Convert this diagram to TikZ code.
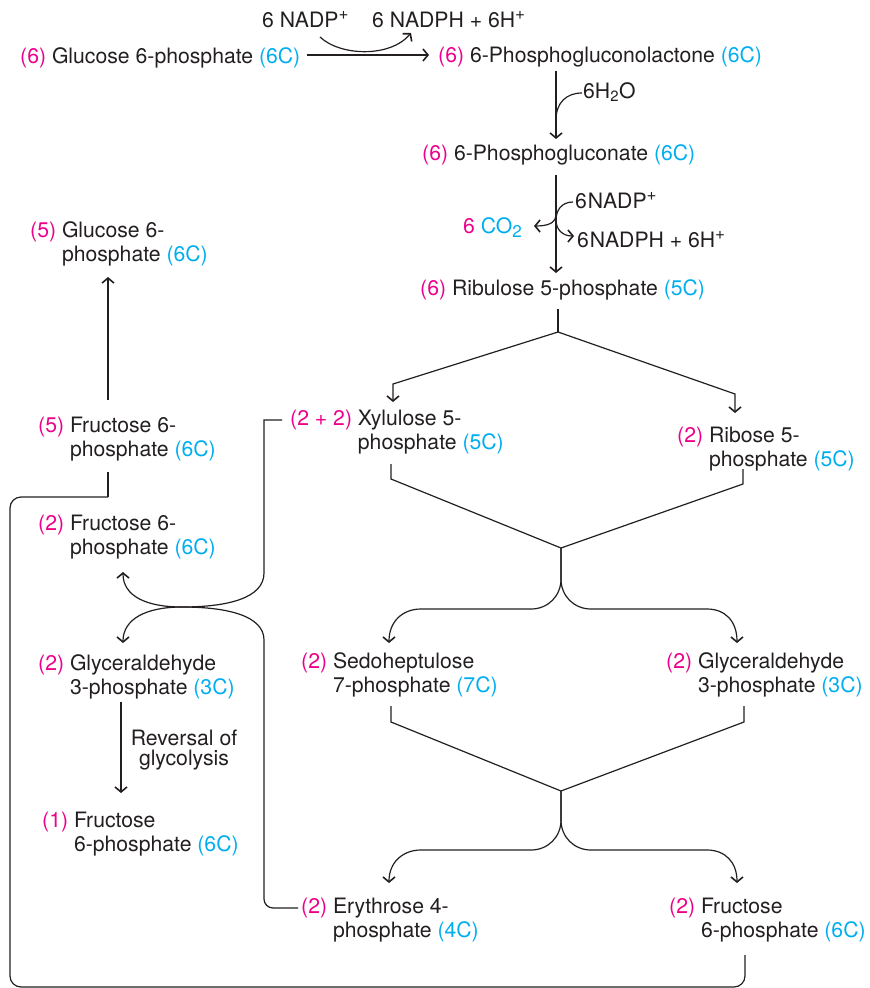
\documentclass[tikz,border=0pt]{standalone}
\usepackage{fontspec}
\setmainfont{TeX Gyre Heros}
\usetikzlibrary{arrows.meta}
\definecolor{txt}{HTML}{231F20}
\definecolor{pinkc}{HTML}{EC008C}
\definecolor{cyanc}{HTML}{00AEEF}
\newcommand{\pinkt}[1]{\textcolor{pinkc}{#1}}
\newcommand{\cyant}[1]{\textcolor{cyanc}{#1}}
\newcommand{\plussup}{\raisebox{8pt}{\fontsize{17}{17}\selectfont +}}
\newcommand{\twolines}[3]{\begin{tabular}[t]{@{}l@{\ }l@{}}#1 & #2\\ & #3\end{tabular}}
\begin{document}
\begin{tikzpicture}[x=1pt,y=-1pt,
  lbl/.style={inner sep=0pt, anchor=base west, text=txt, font=\fontsize{21.2}{24.5}\selectfont},
  ln/.style={draw=txt, line width=1.2pt},
  arr/.style={ln, -{Straight Barb[length=5pt,width=12pt,line width=1.6pt]}}]
\useasboundingbox (0,0) rectangle (870,988);

% ---- nodes ----
\node[lbl] (g6p)  at (20,63)   {\pinkt{(6)} Glucose 6-phosphate \cyant{(6C)}};
\node[lbl] (pgl)  at (438,62)  {\pinkt{(6)} 6-Phosphogluconolactone \cyant{(6C)}};
\node[lbl] (pg)   at (422,160) {\pinkt{(6)} 6-Phosphogluconate \cyant{(6C)}};
\node[lbl] (ru5p) at (420,295) {\pinkt{(6)} Ribulose 5-phosphate \cyant{(5C)}};
\node[lbl] (nadpa)  at (262,27) {6 NADP\plussup};
\node[lbl] (nadpha) at (372,27) {6 NADPH + 6H\plussup};
\node[lbl] (water)  at (583,98) {6H\textsubscript{2}O};
\node[lbl] (nadpb)  at (575,208) {6\kern1pt NADP\plussup};
\node[lbl] (co2)    at (463,233) {\pinkt{6} \cyant{CO\raisebox{-4pt}{\fontsize{17}{17}\selectfont 2}}};
\node[lbl] (nadphb) at (577,247) {6\kern1pt NADPH + 6H\plussup};

\node[lbl] (xu5p) at (290,425) {\twolines{\pinkt{(2 + 2)}}{Xylulose 5-}{phosphate \cyant{(5C)}}};
\node[lbl] (r5p)  at (677,442) {\twolines{\pinkt{(2)}}{Ribose 5-}{phosphate \cyant{(5C)}}};
\node[lbl] (s7p)  at (301,668) {\twolines{\pinkt{(2)}}{Sedoheptulose}{7-phosphate \cyant{(7C)}}};
\node[lbl] (gapr) at (666,668) {\twolines{\pinkt{(2)}}{Glyceraldehyde}{3-phosphate \cyant{(3C)}}};
\node[lbl] (e4p)  at (301,913) {\twolines{\pinkt{(2)}}{Erythrose 4-}{phosphate \cyant{(4C)}}};
\node[lbl] (f6pr) at (669,913) {\twolines{\pinkt{(2)}}{Fructose}{6-phosphate \cyant{(6C)}}};

\node[lbl] (g6pl) at (30,237)  {\twolines{\pinkt{(5)}}{Glucose 6-}{phosphate \cyant{(6C)}}};
\node[lbl] (f6pa) at (38,432)  {\twolines{\pinkt{(5)}}{Fructose 6-}{phosphate \cyant{(6C)}}};
\node[lbl] (f6pb) at (38,530)  {\twolines{\pinkt{(2)}}{Fructose 6-}{phosphate \cyant{(6C)}}};
\node[lbl] (gapl) at (38,670)  {\twolines{\pinkt{(2)}}{Glyceraldehyde}{3-phosphate \cyant{(3C)}}};
\node[lbl] (f6pc) at (42,827)  {\twolines{\pinkt{(1)}}{Fructose}{6-phosphate \cyant{(6C)}}};
\node[lbl, anchor=north, align=center, font=\fontsize{21.2}{20}\selectfont] (rev) at (184,730) {Reversal of\\glycolysis};

% ---- connector end points ----
\coordinate (g6pE) at (307,55);   \coordinate (pglW) at (429,55);
\coordinate (nadpaS) at (320,37); \coordinate (nadphaS) at (411,33);
\coordinate (pglS) at (556,71);   \coordinate (pgN) at (556,139);
\coordinate (waterW) at (582,93); \coordinate (waterJ) at (556,120);
\coordinate (pgS) at (556,175);   \coordinate (ruN) at (556,273);
\coordinate (nadpbW) at (573,202); \coordinate (nadphbW) at (574,236);
\coordinate (co2J) at (556,214);  \coordinate (co2E) at (534,226);
\coordinate (ruS) at (558,309);   \coordinate (j1) at (558,332);
\coordinate (xuN) at (393,402);   \coordinate (rN) at (735,413);
\coordinate (xuS) at (391,464);   \coordinate (rS) at (743,469);
\coordinate (j2) at (561,548);
\coordinate (s7N) at (389,643);   \coordinate (garN) at (737,643);
\coordinate (s7S) at (391,706);   \coordinate (garS) at (744,706);
\coordinate (j3) at (561,791);
\coordinate (e4N) at (389,883);   \coordinate (frN) at (737,883);
\coordinate (frS) at (745,955);
\coordinate (faN) at (108,400);   \coordinate (glS) at (108,277);
\coordinate (faS) at (108,472);   \coordinate (faC) at (108,497);
\coordinate (xuW) at (282,420);   \coordinate (e4W) at (298,908);
\coordinate (fbS) at (123,572);   \coordinate (glN) at (123,643);
\coordinate (cross) at (182,607);
\coordinate (glyS) at (121,702);  \coordinate (fcN) at (121,793);

% ---- oxidative part ----
\draw[arr] (g6pE) -- (pglW);
\draw[arr] (nadpaS) .. controls (340,56) and (390,58) .. (nadphaS);
\draw[arr] (pglS) -- (pgN);
\draw[ln] (waterW) .. controls (566,93) and (556,103) .. (waterJ);
\draw[arr] (pgS) -- (ruN);
\draw[arr] (nadpbW) .. controls (561,202) and (556,211) .. (556,220)
                    .. controls (556,229) and (562,236) .. (nadphbW);
\draw[arr] (co2J) .. controls (556,222) and (550,226) .. (co2E);

% ---- non-oxidative part ----
\draw[ln] (ruS) -- (j1);
\draw[arr] (j1) -- (393,384) -- (xuN);
\draw[arr] (j1) -- (735,394) -- (rN);

\draw[ln] (xuS) -- (391,479) -- (j2) -- (743,484) -- (rS);
\draw[arr] (j2) -- (561,579) .. controls (561,596) and (548,609) .. (531,609)
   -- (421,609) .. controls (403,609) and (389,621) .. (s7N);
\draw[arr] (j2) -- (561,579) .. controls (561,596) and (574,609) .. (591,609)
   -- (707,609) .. controls (725,609) and (737,621) .. (garN);

\draw[ln] (s7S) -- (391,722) -- (j3) -- (744,722) -- (garS);
\draw[arr] (j3) -- (561,820) .. controls (561,837) and (548,850) .. (531,850)
   -- (421,850) .. controls (403,850) and (389,862) .. (e4N);
\draw[arr] (j3) -- (561,820) .. controls (561,837) and (574,850) .. (591,850)
   -- (707,850) .. controls (725,850) and (737,862) .. (frN);

% ---- left side ----
\draw[arr] (faN) -- (glS);
\draw[ln] (faS) -- (faC);
\draw[ln, rounded corners=11] (faC) -- (10,497) -- (10,987) -- (745,987) -- (frS);

\draw[arr] (xuW) -- (264,420) -- (264,573) .. controls (264,598) and (228,607) .. (cross)
   .. controls (146,607) and (123,596) .. (fbS);
\draw[ln, rounded corners=9] (e4W) -- (264,908) -- (264,640);
\draw[arr] (264,640) .. controls (264,616) and (228,607) .. (cross)
   .. controls (146,607) and (123,619) .. (glN);

\draw[arr] (glyS) -- (fcN);
\end{tikzpicture}
\end{document}
